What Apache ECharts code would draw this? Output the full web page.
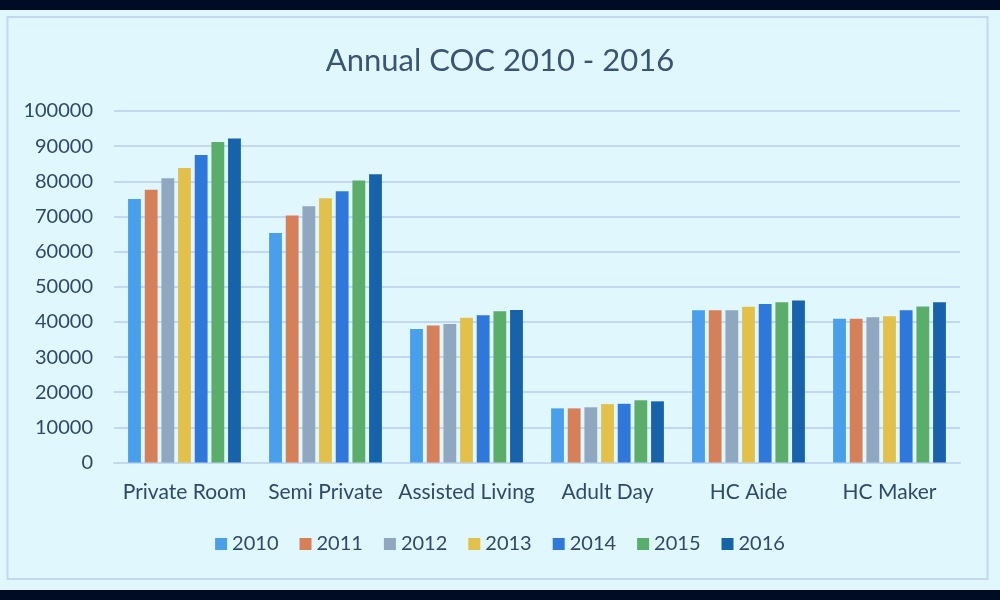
<!DOCTYPE html>
<html>
<head>
<meta charset="utf-8">
<script src="https://cdn.jsdelivr.net/npm/echarts@6/dist/echarts.min.js"></script>
<style>
html,body{margin:0;padding:0;background:#000C24;}
#c{width:1000px;height:600px;}
</style>
</head>
<body>
<div id="c"></div>
<script>
const categories = ['Private Room', 'Semi Private', 'Assisted Living', 'Adult Day', 'HC Aide', 'HC Maker'];
const years = ['2010', '2011', '2012', '2013', '2014', '2015', '2016'];
const v2010 = [75000, 65300, 38000, 15400, 43300, 40900];
const v2011 = [77600, 70300, 39000, 15400, 43300, 40900];
const v2012 = [80900, 72900, 39400, 15700, 43300, 41300];
const v2013 = [83800, 75200, 41200, 16600, 44300, 41600];
const v2014 = [87500, 77200, 41900, 16700, 45100, 43300];
const v2015 = [91200, 80200, 43000, 17700, 45600, 44400];
const v2016 = [92200, 82000, 43400, 17400, 46100, 45600];
const yTicks = [0, 10000, 20000, 30000, 40000, 50000, 60000, 70000, 80000, 90000, 100000];

const seriesValues = [v2010, v2011, v2012, v2013, v2014, v2015, v2016];
const colors = ['#4A9FEA', '#D6805A', '#8FA8C0', '#E2C04A', '#2F78DB', '#5BAE6A', '#1763AB'];
const font = 'Lato, "Open Sans", sans-serif';
const textColor = '#2F4A68';

const chart = echarts.init(document.getElementById('c'), null, {renderer: 'canvas'});
chart.setOption({
  backgroundColor: '#E0F7FD',
  animation: false,
  title: {
    text: 'Annual COC 2010 - 2016',
    left: 'center',
    top: 40,
    textStyle: {fontFamily: font, fontSize: 31, fontWeight: 'normal', color: '#3A5572'}
  },
  legend: {
    data: years,
    left: 'center',
    top: 529,
    itemWidth: 12,
    itemHeight: 12,
    itemGap: 21,
    icon: 'rect',
    textStyle: {fontFamily: font, fontSize: 20, color: textColor}
  },
  grid: {left: 114, right: 40, top: 111, bottom: 137.5},
  xAxis: {
    type: 'category',
    data: categories,
    axisLine: {lineStyle: {color: '#C3D8F0', width: 2}},
    axisTick: {show: false},
    axisLabel: {fontFamily: font, fontSize: 21, color: textColor, margin: 19, interval: 0}
  },
  yAxis: {
    type: 'value',
    min: yTicks[0],
    max: yTicks[yTicks.length - 1],
    interval: yTicks[1] - yTicks[0],
    axisLine: {show: false},
    axisTick: {show: false},
    axisLabel: {fontFamily: font, fontSize: 20, color: textColor, margin: 21, formatter: v => String(v)},
    splitLine: {lineStyle: {color: '#C3D8F0', width: 2}}
  },
  series: years.map((y, i) => ({
    name: y,
    type: 'bar',
    data: seriesValues[i],
    barGap: '30%',
    barCategoryGap: '20%',
    itemStyle: {color: colors[i]}
  })),
  graphic: [
    {type: 'rect', shape: {x: 0, y: 0, width: 1000, height: 10}, style: {fill: '#000C24'}, z: 100},
    {type: 'rect', shape: {x: 0, y: 590, width: 1000, height: 10}, style: {fill: '#000C24'}, z: 100},
    {type: 'rect', shape: {x: 7.5, y: 17, width: 980, height: 562}, style: {fill: 'none', stroke: '#C3D8F0', lineWidth: 2}, z: 100}
  ]
});
</script>
</body>
</html>
